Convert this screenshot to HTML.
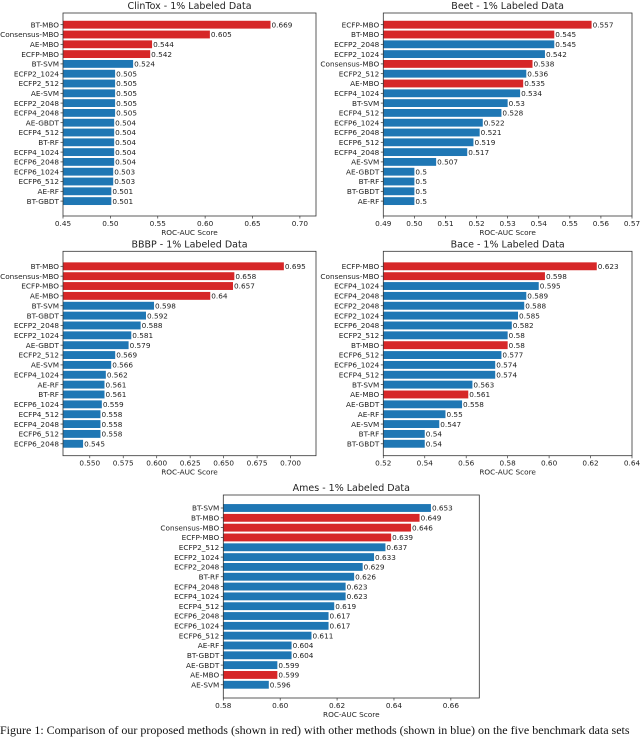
<!DOCTYPE html>
<html><head><meta charset="utf-8"><style>
body{margin:0;background:#fff;width:640px;height:734px;overflow:hidden;position:relative}
svg{position:absolute;left:0;top:0}
text{font-family:"DejaVu Sans","Liberation Sans",sans-serif;fill:#222}
.cap{position:absolute;left:0;top:723px;width:640px;overflow:hidden;font-family:"Liberation Serif",serif;font-size:12px;white-space:nowrap;color:#111}
</style></head><body>
<svg id="fig" width="640" height="734"></svg>
<div class="cap">Figure 1: Comparison of our proposed methods (shown in red) with other methods (shown in blue) on the five benchmark data sets</div>
<script>
const clintoxLabels=["BT-MBO","Consensus-MBO","AE-MBO","ECFP-MBO","BT-SVM","ECFP2_1024","ECFP2_512","AE-SVM","ECFP2_2048","ECFP4_2048","AE-GBDT","ECFP4_512","BT-RF","ECFP4_1024","ECFP6_2048","ECFP6_1024","ECFP6_512","AE-RF","BT-GBDT"];
const clintoxValues=[0.669,0.605,0.544,0.542,0.524,0.505,0.505,0.505,0.505,0.505,0.504,0.504,0.504,0.504,0.504,0.503,0.503,0.501,0.501];
const clintoxTicks=["0.45","0.50","0.55","0.60","0.65","0.70"];
const beetLabels=["ECFP-MBO","BT-MBO","ECFP2_2048","ECFP2_1024","Consensus-MBO","ECFP2_512","AE-MBO","ECFP4_1024","BT-SVM","ECFP4_512","ECFP6_1024","ECFP6_2048","ECFP6_512","ECFP4_2048","AE-SVM","AE-GBDT","BT-RF","BT-GBDT","AE-RF"];
const beetValues=[0.557,0.545,0.545,0.542,0.538,0.536,0.535,0.534,0.53,0.528,0.522,0.521,0.519,0.517,0.507,0.5,0.5,0.5,0.5];
const beetTicks=["0.49","0.50","0.51","0.52","0.53","0.54","0.55","0.56","0.57"];
const bbbpLabels=["BT-MBO","Consensus-MBO","ECFP-MBO","AE-MBO","BT-SVM","BT-GBDT","ECFP2_2048","ECFP2_1024","AE-GBDT","ECFP2_512","AE-SVM","ECFP4_1024","AE-RF","BT-RF","ECFP6_1024","ECFP4_512","ECFP4_2048","ECFP6_512","ECFP6_2048"];
const bbbpValues=[0.695,0.658,0.657,0.64,0.598,0.592,0.588,0.581,0.579,0.569,0.566,0.562,0.561,0.561,0.559,0.558,0.558,0.558,0.545];
const bbbpTicks=["0.550","0.575","0.600","0.625","0.650","0.675","0.700"];
const baceLabels=["ECFP-MBO","Consensus-MBO","ECFP4_1024","ECFP4_2048","ECFP2_2048","ECFP2_1024","ECFP6_2048","ECFP2_512","BT-MBO","ECFP6_512","ECFP6_1024","ECFP4_512","BT-SVM","AE-MBO","AE-GBDT","AE-RF","AE-SVM","BT-RF","BT-GBDT"];
const baceValues=[0.623,0.598,0.595,0.589,0.588,0.585,0.582,0.58,0.58,0.577,0.574,0.574,0.563,0.561,0.558,0.55,0.547,0.54,0.54];
const baceTicks=["0.52","0.54","0.56","0.58","0.60","0.62","0.64"];
const amesLabels=["BT-SVM","BT-MBO","Consensus-MBO","ECFP-MBO","ECFP2_512","ECFP2_1024","ECFP2_2048","BT-RF","ECFP4_2048","ECFP4_1024","ECFP4_512","ECFP6_2048","ECFP6_1024","ECFP6_512","AE-RF","BT-GBDT","AE-GBDT","AE-MBO","AE-SVM"];
const amesValues=[0.653,0.649,0.646,0.639,0.637,0.633,0.629,0.626,0.623,0.623,0.619,0.617,0.617,0.611,0.604,0.604,0.599,0.599,0.596];
const amesTicks=["0.58","0.60","0.62","0.64","0.66"];

const NS="http://www.w3.org/2000/svg";
const svg=document.getElementById('fig');
function mk(tag,attrs,parent){const e=document.createElementNS(NS,tag);for(const k in attrs)e.setAttribute(k,attrs[k]);(parent||svg).appendChild(e);return e;}

function chart(key,title,labels,values,ticks,box,xmin,xmax){
  const g=mk('g',{});
  
  
  const {l,r,t,b,y0,dy}=box;
  const xs=v=>l+(v-xmin)/(xmax-xmin)*(r-l);
  const ys=i=>y0+i*dy;
  const bh=dy*0.8;
  const tt=mk('text',{x:(l+r)/2,y:t-4,'text-anchor':'middle','font-size':'9.5'},g);
  tt.textContent=title;
  
  
  labels.forEach((lab,i)=>{
    const v=values[i];
    const red=/MBO/.test(lab);
    const rc=mk('rect',{x:l,y:ys(i)-bh/2,width:Math.max(0,xs(v)-l),height:bh,fill:red?'#d62728':'#1f77b4'},g);
    
    
    const vt=mk('text',{x:xs(v)+1,y:ys(i)+2.7,'font-size':'7.3'},g);
    vt.textContent=String(v);
    
    
    const yt=mk('text',{x:l-4,y:ys(i)+2.7,'font-size':'7.3','text-anchor':'end'},g);
    yt.textContent=lab;
    
    
    mk('line',{x1:l-2.5,x2:l,y1:ys(i),y2:ys(i),stroke:'#333','stroke-width':0.7},g);
  });
  ticks.forEach(s=>{
    const x=xs(parseFloat(s));
    mk('line',{x1:x,x2:x,y1:b,y2:b+2.5,stroke:'#333','stroke-width':0.7},g);
    const tx=mk('text',{x:x,y:b+10,'font-size':'7.3','text-anchor':'middle'},g);
    tx.textContent=s;
    
    
  });
  const xl=mk('text',{x:(l+r)/2,y:b+19,'font-size':'7.3','text-anchor':'middle'},g);
  xl.textContent='ROC-AUC Score';
  
  
  mk('rect',{x:l,y:t,width:r-l,height:b-t,fill:'none',stroke:'#333','stroke-width':0.8},g);
}
chart('clintox','ClinTox - 1% Labeled Data',clintoxLabels,clintoxValues,clintoxTicks,{l:63,r:316,t:13,b:216,y0:24.7,dy:9.8},0.45,0.717);
chart('beet','Beet - 1% Labeled Data',beetLabels,beetValues,beetTicks,{l:383.3,r:632,t:13,b:216,y0:24.7,dy:9.8},0.49,0.57);
chart('bbbp','BBBP - 1% Labeled Data',bbbpLabels,bbbpValues,bbbpTicks,{l:63,r:316,t:251.3,b:455.7,y0:266.3,dy:9.86},0.53,0.719);
chart('bace','Bace - 1% Labeled Data',baceLabels,baceValues,baceTicks,{l:383.3,r:632,t:251.3,b:455.7,y0:266.3,dy:9.86},0.52,0.64);
chart('ames','Ames - 1% Labeled Data',amesLabels,amesValues,amesTicks,{l:223.3,r:479.3,t:495,b:698,y0:508,dy:9.82},0.58,0.670);
</script>
</body></html>
